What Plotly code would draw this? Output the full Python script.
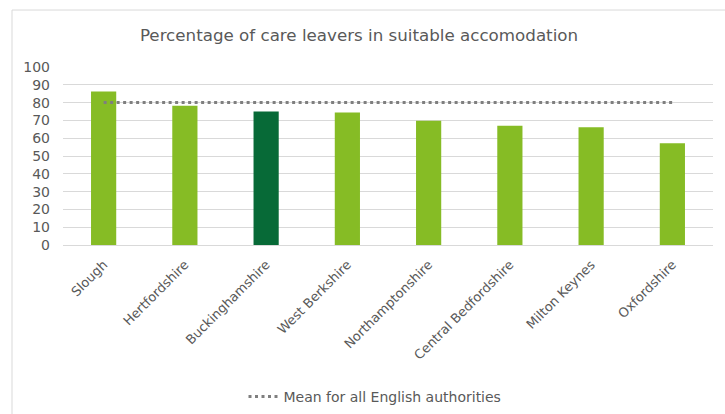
import plotly.graph_objects as go

# Care leavers in suitable accommodation, by local authority (%)
authorities = ["Slough", "Hertfordshire", "Buckinghamshire", "West Berkshire",
               "Northamptonshire", "Central Bedfordshire", "Milton Keynes", "Oxfordshire"]
pct_suitable = [86.3, 78.2, 75.0, 74.5, 69.8, 67.0, 66.2, 57.2]
english_mean = [80, 80, 80, 80, 80, 80, 80, 80]
highlight = "Buckinghamshire"

LIGHT_GREEN = "#86BC25"
DARK_GREEN = "#076A37"
GREY_TEXT = "#595959"
GRID = "#D9D9D9"
FONT = "DejaVu Sans"

bar_colors = [DARK_GREEN if a == highlight else LIGHT_GREEN for a in authorities]

fig = go.Figure()
fig.add_trace(go.Bar(
    x=authorities, y=pct_suitable,
    marker=dict(color=bar_colors, line=dict(width=0)),
    showlegend=False, name="Percentage",
))
fig.add_trace(go.Scatter(
    x=authorities, y=english_mean, mode="lines",
    line=dict(color="#7F7F7F", width=3, dash="3px,3.5px"),
    name="Mean for all English authorities",
))

fig.update_layout(
    width=725, height=414,
    margin=dict(l=63, r=12, t=67, b=169, autoexpand=False),
    paper_bgcolor="white", plot_bgcolor="white",
    bargap=0.69,
    font=dict(family=FONT, color=GREY_TEXT, size=13),
    title=dict(text="Percentage of care leavers in suitable accomodation",
               x=359 / 725, xanchor="center", xref="container",
               y=1 - 35 / 414, yanchor="middle", yref="container",
               font=dict(family=FONT, size=16.7, color=GREY_TEXT)),
    legend=dict(orientation="h", x=0.48, xanchor="center",
                y=-0.854, yanchor="middle",
                font=dict(family=FONT, size=14, color=GREY_TEXT),
                bgcolor="rgba(0,0,0,0)"),
    xaxis=dict(tickangle=-45, showline=True, linecolor=GRID, linewidth=1,
               showgrid=False, ticks="", automargin=False, ticklabelstandoff=6,
               tickfont=dict(size=13, color=GREY_TEXT)),
    yaxis=dict(range=[0, 100], dtick=10, showgrid=True, gridcolor=GRID,
               gridwidth=1, zeroline=False, ticks="", ticklabelstandoff=12,
               automargin=False, tickfont=dict(size=14, color=GREY_TEXT)),
    shapes=[
        # chart frame (left and top edges)
        dict(type="line", xref="paper", yref="paper",
             x0=(12 - 63) / 650, x1=(12 - 63) / 650, y0=1.32, y1=-1.2,
             line=dict(color=GRID, width=1)),
        dict(type="line", xref="paper", yref="paper",
             x0=(12 - 63) / 650, x1=1.2, y0=1.32, y1=1.32,
             line=dict(color=GRID, width=1)),
    ],
)

fig.write_html("out.html")
